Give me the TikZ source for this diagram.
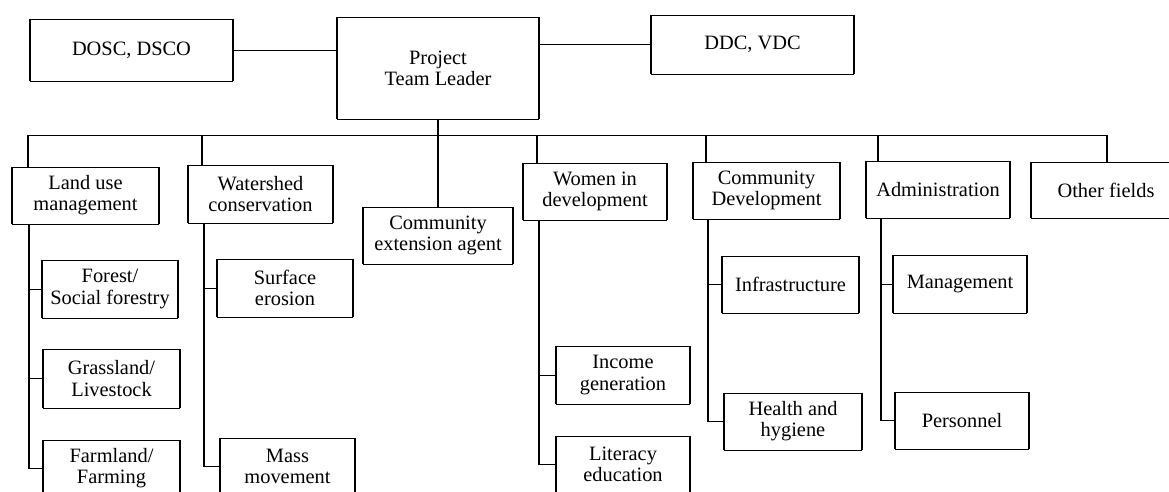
\documentclass[tikz,border=0pt]{standalone}
\usepackage{fontspec}
\setmainfont{Liberation Serif}

% a box given by its corners (x1,y1)-(x2,y2), in picture units
\newcommand{\orgbox}[6]{%
  \node[box, minimum width={(#4-#2)*0.025cm}, minimum height={(#5-#3)*0.025cm}]
    (#1) at ({(#2+#4)/2},{(#3+#5)/2}) {#6};}

\tikzset{
  hrule/.style={draw, line width=0.5pt},
  vrule/.style={draw, line width=1.1pt},
  box/.style={align=center, inner sep=0pt, outer sep=0pt,
    font=\fontsize{14.5}{15}\selectfont,
    append after command={
      (\tikzlastnode.north west) edge[hrule] (\tikzlastnode.north east)
      (\tikzlastnode.south west) edge[hrule] (\tikzlastnode.south east)
      (\tikzlastnode.north west) edge[vrule] (\tikzlastnode.south west)
      (\tikzlastnode.north east) edge[vrule] (\tikzlastnode.south east)}},
}

\begin{document}
\begin{tikzpicture}[x=0.025cm, y=-0.025cm]
\useasboundingbox (0,0) rectangle (1169,492);
\clip (0,0) rectangle (1169,492);

% top level
\orgbox{dosc}{30}{19}{233}{81}{DOSC, DSCO}
\orgbox{ptl}{337}{17}{539}{119}{Project\\Team Leader}
\orgbox{ddc}{651}{15}{854}{74}{DDC, VDC}

% fields
\orgbox{lum}{12}{167}{159}{224}{Land use\\management}
\orgbox{ws}{188}{165}{333}{223}{Watershed\\conservation}
\orgbox{cea}{363}{207}{513}{264}{Community\\extension agent}
\orgbox{wid}{523}{163}{667}{220}{Women in\\development}
\orgbox{cd}{693}{162}{840}{219}{Community\\Development}
\orgbox{adm}{866}{161}{1010}{218}{Administration}
\orgbox{of}{1031}{162}{1181}{218}{Other fields}

% sub-fields
\orgbox{forest}{42}{260}{178}{318}{Forest/\\Social forestry}
\orgbox{grass}{43}{349}{180}{408}{Grassland/\\Livestock}
\orgbox{farm}{43}{440}{180}{497}{Farmland/\\Farming}
\orgbox{surf}{217}{259}{353}{317}{Surface\\erosion}
\orgbox{mass}{220}{438}{355}{495}{Mass\\movement}
\orgbox{income}{556}{346}{690}{404}{Income\\generation}
\orgbox{lit}{556}{436}{690}{493}{Literacy\\education}
\orgbox{infra}{722}{256}{859}{313}{Infrastructure}
\orgbox{health}{724}{393}{862}{450}{Health and\\hygiene}
\orgbox{mgmt}{893}{255}{1027}{313}{Management}
\orgbox{pers}{895}{392}{1029}{449}{Personnel}

% links between the top boxes
\draw[hrule] (dosc.east) -- (dosc.east -| ptl.west);
\draw[hrule] (ddc.west -| ptl.east) -- (ddc.west);
\draw[vrule] (ptl.south) -- (cea.north);

% horizontal bus and drops to the fields
\coordinate (b1) at (28,135);
\coordinate (b2) at (202,135);
\coordinate (b3) at (537,135);
\coordinate (b4) at (706,135);
\coordinate (b5) at (878,135);
\coordinate (b6) at (1107,135);
\draw[hrule] (b1) -- (b6);
\draw[vrule] (b1) -- (b1 |- lum.north);
\draw[vrule] (b2) -- (b2 |- ws.north);
\draw[vrule] (b3) -- (b3 |- wid.north);
\draw[vrule] (b4) -- (b4 |- cd.north);
\draw[vrule] (b5) -- (b5 |- adm.north);
\draw[vrule] (b6) -- (b6 |- of.north);

% spines down to the sub-fields
\coordinate (s1) at (29,224);
\draw[vrule] (s1) -- (s1 |- farm.west);
\draw[hrule] (s1 |- forest.west) -- (forest.west);
\draw[hrule] (s1 |- grass.west) -- (grass.west);
\draw[hrule] (s1 |- farm.west) -- (farm.west);

\coordinate (s2) at (204,223);
\draw[vrule] (s2) -- (s2 |- mass.west);
\draw[hrule] (s2 |- surf.west) -- (surf.west);
\draw[hrule] (s2 |- mass.west) -- (mass.west);

\coordinate (s3) at (539,220);
\draw[vrule] (s3) -- (s3 |- lit.west);
\draw[hrule] (s3 |- income.west) -- (income.west);
\draw[hrule] (s3 |- lit.west) -- (lit.west);

\coordinate (s4) at (708,219);
\draw[vrule] (s4) -- (s4 |- health.west);
\draw[hrule] (s4 |- infra.west) -- (infra.west);
\draw[hrule] (s4 |- health.west) -- (health.west);

\coordinate (s5) at (881,218);
\draw[vrule] (s5) -- (s5 |- pers.west);
\draw[hrule] (s5 |- mgmt.west) -- (mgmt.west);
\draw[hrule] (s5 |- pers.west) -- (pers.west);
\end{tikzpicture}
\end{document}
